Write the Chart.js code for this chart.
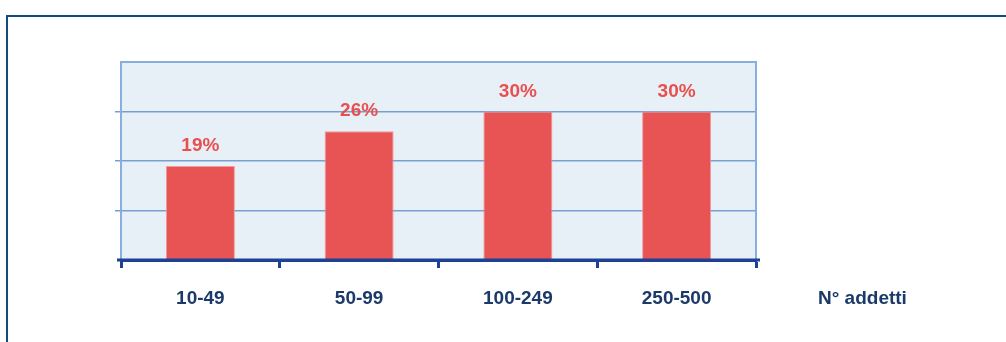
<!DOCTYPE html>
<html>
<head>
<meta charset="utf-8">
<script src="https://cdn.jsdelivr.net/npm/chart.js@4"></script>
<style>
    html, body { margin: 0; padding: 0; background: #fff; }
    body { width: 1006px; height: 342px; overflow: hidden; position: relative; }
    #frame {
        position: absolute; left: 6px; top: 15px; width: 1100px; height: 400px;
        border-left: 2px solid #0f4c82; border-top: 2px solid #0f4c82;
    }
    #wrap { position: absolute; left: 0; top: 0; width: 1006px; height: 342px; }
</style>
</head>
<body>
<div id="frame"></div>
<div id="wrap"><canvas id="addetti-chart" width="1006" height="342"></canvas></div>
<script>
// size classes (number of employees) and share per class, in percent
var classes = ['10-49', '50-99', '100-249', '250-500'];
var shares = [19, 26, 30, 30];
var axisTitle = 'N° addetti';
var yMax = 40;
var yStep = 10;

document.addEventListener('DOMContentLoaded', function() {
    var ctx = document.getElementById('addetti-chart').getContext('2d');
    var navy = '#1b3a69';
    var red = '#e85353';
    var axisBlue = '#1d4194';
    var font = "'Liberation Sans', Arial, sans-serif";

    // light blue plot background with a thin border on top and right
    var plotBox = {
        id: 'plotBox',
        beforeDraw: function(chart) {
            var a = chart.chartArea;
            var c = chart.ctx;
            c.save();
            c.fillStyle = '#e8f0f7';
            c.fillRect(a.left, a.top, a.right - a.left, a.bottom - a.top);
            c.restore();
        },
        beforeDatasetsDraw: function(chart) {
            var a = chart.chartArea;
            var c = chart.ctx;
            c.save();
            c.strokeStyle = '#86aedf';
            c.lineWidth = 2;
            c.beginPath();
            c.moveTo(a.left, a.top);
            c.lineTo(a.right, a.top);
            c.lineTo(a.right, a.bottom);
            c.stroke();
            c.restore();
        }
    };

    // percent labels above bars, the axis caption on the right,
    // and the base line running a little past both ends
    var barLabels = {
        id: 'barLabels',
        afterDraw: function(chart) {
            var c = chart.ctx;
            var a = chart.chartArea;
            var meta = chart.getDatasetMeta(0);
            c.save();
            c.strokeStyle = axisBlue;
            c.lineWidth = 3;
            c.beginPath();
            c.moveTo(a.left - 4, a.bottom);
            c.lineTo(a.right + 4, a.bottom);
            c.stroke();

            c.font = 'bold 19px ' + font;
            c.fillStyle = '#e8504f';
            c.textAlign = 'center';
            c.textBaseline = 'alphabetic';
            meta.data.forEach(function(bar, i) {
                c.fillText(shares[i] + '%', bar.x, bar.y - 15);
            });
            c.fillStyle = navy;
            c.textAlign = 'left';
            c.fillText(axisTitle, a.right + 62, 304);
            c.restore();
        }
    };

    new Chart(ctx, {
        type: 'bar',
        data: {
            labels: classes,
            datasets: [{
                data: shares,
                backgroundColor: red,
                borderColor: '#f09a9a',
                borderWidth: 1,
                categoryPercentage: 1,
                barPercentage: 0.435
            }]
        },
        options: {
            responsive: false,
            animation: false,
            devicePixelRatio: 1,
            layout: { padding: { top: 62, right: 250, left: 0, bottom: 0 } },
            plugins: {
                legend: { display: false },
                tooltip: { enabled: false }
            },
            scales: {
                x: {
                    afterFit: function(scale) { scale.height = 82; },
                    grid: {
                        offset: true,
                        drawOnChartArea: false,
                        drawTicks: true,
                        tickLength: 8,
                        tickWidth: 3,
                        tickColor: axisBlue
                    },
                    border: { display: true, color: axisBlue, width: 3 },
                    ticks: {
                        color: navy,
                        padding: 19,
                        font: { family: font, size: 19, weight: 'bold' }
                    }
                },
                y: {
                    min: 0,
                    max: yMax,
                    afterFit: function(scale) { scale.width = 121; },
                    ticks: { display: false, stepSize: yStep },
                    grid: {
                        color: '#779fd4',
                        lineWidth: 1.5,
                        drawTicks: true,
                        tickLength: 6,
                        tickColor: function(c) {
                            return (c.tick && (c.tick.value === yMax || c.tick.value === 0)) ? 'rgba(0,0,0,0)' : '#779fd4';
                        }
                    },
                    border: { display: true, color: '#86aedf', width: 2 }
                }
            }
        },
        plugins: [plotBox, barLabels]
    });
});
</script>
</body>
</html>
